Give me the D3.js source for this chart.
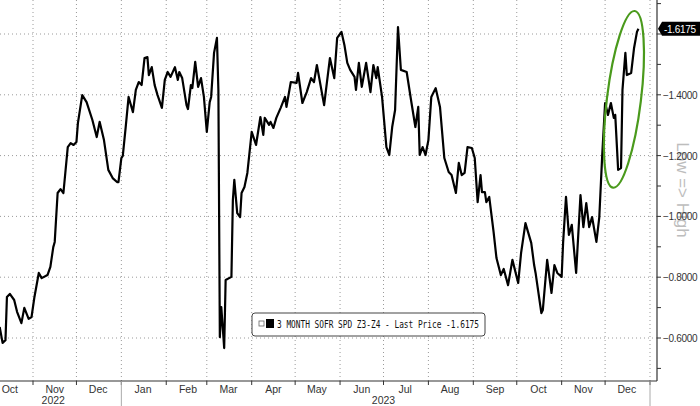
<!DOCTYPE html>
<html><head><meta charset="utf-8">
<script src="https://cdn.jsdelivr.net/npm/d3@7"></script>
<style>body{margin:0;background:#fff}svg{display:block}</style>
</head><body><svg id="c" width="700" height="406"></svg>
<script>
const dates = ["2022-10-09","2022-10-11","2022-10-13","2022-10-14","2022-10-16","2022-10-19","2022-10-21","2022-10-24","2022-10-26","2022-10-29","2022-10-31",
"2022-11-02","2022-11-05","2022-11-07","2022-11-11","2022-11-13","2022-11-15","2022-11-16","2022-11-18","2022-11-20","2022-11-22","2022-11-25","2022-11-27","2022-11-29",
"2022-12-01","2022-12-02","2022-12-05","2022-12-08","2022-12-12","2022-12-15","2022-12-17","2022-12-20","2022-12-23","2022-12-26","2022-12-29","2022-12-30",
"2023-01-01","2023-01-02","2023-01-04","2023-01-06","2023-01-09","2023-01-11","2023-01-13","2023-01-15","2023-01-17","2023-01-19","2023-01-20","2023-01-22","2023-01-24","2023-01-26","2023-01-29","2023-01-31",
"2023-02-02","2023-02-04","2023-02-07","2023-02-09","2023-02-10","2023-02-12","2023-02-15","2023-02-16","2023-02-18","2023-02-19","2023-02-21","2023-02-23","2023-02-25","2023-02-27",
"2023-03-01","2023-03-03","2023-03-04","2023-03-06","2023-03-08","2023-03-09","2023-03-10","2023-03-11","2023-03-13","2023-03-14","2023-03-18","2023-03-19","2023-03-20","2023-03-22","2023-03-24","2023-03-25","2023-03-27","2023-03-29",
"2023-04-01","2023-04-04","2023-04-07","2023-04-09","2023-04-10","2023-04-13","2023-04-14","2023-04-16","2023-04-18","2023-04-21","2023-04-24","2023-04-25","2023-04-28",
"2023-05-02","2023-05-03","2023-05-06","2023-05-09","2023-05-12","2023-05-14","2023-05-16","2023-05-21","2023-05-25","2023-05-28","2023-05-30",
"2023-06-02","2023-06-04","2023-06-06","2023-06-08","2023-06-11","2023-06-12","2023-06-14","2023-06-16","2023-06-19","2023-06-22","2023-06-24","2023-06-26","2023-06-27","2023-06-30",
"2023-07-03","2023-07-05","2023-07-07","2023-07-09","2023-07-11","2023-07-13","2023-07-17","2023-07-20","2023-07-23","2023-07-25","2023-07-26","2023-07-28","2023-07-30",
"2023-08-01","2023-08-03","2023-08-06","2023-08-09","2023-08-12","2023-08-15","2023-08-17","2023-08-20","2023-08-22","2023-08-24","2023-08-26","2023-08-28","2023-08-31",
"2023-09-02","2023-09-04","2023-09-06","2023-09-07","2023-09-09","2023-09-10","2023-09-12","2023-09-15","2023-09-17","2023-09-20","2023-09-22","2023-09-25","2023-09-28",
"2023-10-02","2023-10-04","2023-10-07","2023-10-11","2023-10-13","2023-10-14","2023-10-18","2023-10-19","2023-10-22","2023-10-25","2023-10-27","2023-10-29",
"2023-11-01","2023-11-02","2023-11-04","2023-11-06","2023-11-08","2023-11-11","2023-11-14","2023-11-16","2023-11-18","2023-11-20","2023-11-22","2023-11-25","2023-11-27","2023-11-29",
"2023-12-01","2023-12-03","2023-12-05","2023-12-07","2023-12-08","2023-12-10","2023-12-12","2023-12-13","2023-12-15","2023-12-16","2023-12-19","2023-12-21","2023-12-23","2023-12-24"];
const values = [-0.636,-0.584,-0.593,-0.735,-0.745,-0.725,-0.686,-0.649,-0.699,-0.663,-0.669,
-0.735,-0.814,-0.797,-0.807,-0.834,-0.899,-0.916,-1.077,-1.090,-1.077,-1.228,-1.241,-1.235,
-1.245,-1.307,-1.399,-1.376,-1.317,-1.261,-1.311,-1.251,-1.153,-1.126,-1.113,-1.113,
-1.192,-1.199,-1.294,-1.393,-1.343,-1.416,-1.442,-1.432,-1.521,-1.524,-1.465,-1.491,-1.432,-1.399,-1.357,-1.449,
-1.475,-1.459,-1.491,-1.449,-1.475,-1.455,-1.366,-1.353,-1.432,-1.422,-1.508,-1.426,-1.455,-1.393,
-1.278,-1.376,-1.393,-1.538,-1.587,-1.416,-0.603,-0.702,-0.567,-0.791,-0.801,-1.054,-1.120,-1.011,-0.998,-1.077,-1.097,-1.143,
-1.278,-1.235,-1.327,-1.268,-1.324,-1.301,-1.311,-1.291,-1.324,-1.357,-1.393,-1.360,-1.442,
-1.439,-1.472,-1.373,-1.409,-1.455,-1.442,-1.498,-1.366,-1.521,-1.455,-1.587,
-1.607,-1.564,-1.505,-1.482,-1.459,-1.416,-1.505,-1.426,-1.505,-1.409,-1.498,-1.455,-1.491,-1.393,
-1.228,-1.202,-1.294,-1.350,-1.623,-1.482,-1.475,-1.383,-1.294,-1.360,-1.202,-1.228,-1.202,
-1.251,-1.393,-1.422,-1.360,-1.192,-1.146,-1.136,-1.077,-1.176,-1.136,-1.143,-1.228,-1.225,
-1.192,-1.047,-1.136,-1.080,-1.080,-1.047,-1.064,-0.949,-0.863,-0.807,-0.827,-0.774,-0.857,
-0.781,-0.880,-0.978,-0.913,-0.840,-0.814,-0.682,-0.692,-0.857,-0.748,-0.840,-0.814,
-0.801,-0.913,-1.064,-0.939,-0.972,-0.814,-1.070,-0.965,-1.044,-0.965,-0.998,-0.916,-0.998,-1.200,
-1.373,-1.334,-1.373,-1.324,-1.334,-1.153,-1.159,-1.416,-1.538,-1.465,-1.472,-1.554,-1.607,-1.6175];
const yTicks = [-1.6,-1.4,-1.2,-1.0,-0.8,-0.6];
const yMinor = [-1.7,-1.5,-1.3,-1.1,-0.9,-0.7,-0.5];
const monthLabels = ["Oct","Nov","Dec","Jan","Feb","Mar","Apr","May","Jun","Jul","Aug","Sep","Oct","Nov","Dec"];
const yearLabels = ["2022","2023"];
const lastPrice = "-1.6175";
const legendText = "3 MONTH SOFR SPD Z3-Z4 - Last Price -1.6175";

const parse = d3.timeParse("%Y-%m-%d");
const data = dates.map((d,i)=>({t:parse(d),v:values[i]}));
const svg = d3.select("#c");
const W=657, H=381;
const x = d3.scaleTime().domain([parse("2022-11-01"),parse("2024-01-01")]).range([33,650]);
const y = d3.scaleLinear().domain([-1.6,-0.6]).range([34,338]);
const tf = "Liberation Sans, Arial, sans-serif";

// Low => High (behind tick labels)
svg.append("text").attr("transform","translate(677,190) rotate(90)").attr("text-anchor","middle")
  .attr("font-family",tf).attr("font-size",17).attr("fill","#bdbdbd").text("Low => High");

const monthStarts = d3.timeMonth.range(parse("2022-10-01"),parse("2024-01-02"));
const grid = svg.append("g").attr("stroke","#9a9a9a").attr("stroke-dasharray","1,3").attr("stroke-width",1);
yTicks.forEach(v=>grid.append("line").attr("x1",0).attr("x2",W).attr("y1",y(v)).attr("y2",y(v)));
monthStarts.filter(m=>x(m)>0).forEach(m=>grid.append("line").attr("x1",x(m)).attr("x2",x(m)).attr("y1",0).attr("y2",H));

svg.append("path").datum(data).attr("fill","none").attr("stroke","#000").attr("stroke-width",2.2)
  .attr("stroke-linejoin","round").attr("d",d3.line().x(d=>x(d.t)).y(d=>y(d.v)));

const ecx=x(parse("2023-12-14")), ecy=y(-1.385);
svg.append("ellipse").attr("cx",ecx).attr("cy",ecy).attr("rx",17).attr("ry",89)
  .attr("transform",`rotate(7,${ecx},${ecy})`).attr("fill","none").attr("stroke","#4a9a1c").attr("stroke-width",2.2);

const ax = svg.append("g").attr("stroke","#333");
ax.append("line").attr("x1",0).attr("x2",W).attr("y1",H).attr("y2",H).attr("stroke-width",1.2);
ax.append("line").attr("x1",W).attr("x2",W).attr("y1",0).attr("y2",H).attr("stroke-width",1.2);
yTicks.concat(yMinor).forEach(v=>{ if(y(v)>0&&y(v)<H) ax.append("line").attr("x1",W).attr("x2",W+4).attr("y1",y(v)).attr("y2",y(v));});
monthStarts.filter(m=>x(m)>0).forEach(m=>ax.append("line").attr("x1",x(m)).attr("x2",x(m)).attr("y1",H).attr("y2",H+4));
ax.append("line").attr("x1",x(parse("2023-01-01"))).attr("x2",x(parse("2023-01-01"))).attr("y1",H).attr("y2",406).attr("stroke","#aaa");
ax.append("line").attr("x1",x(parse("2024-01-01"))).attr("x2",x(parse("2024-01-01"))).attr("y1",H).attr("y2",406).attr("stroke","#aaa");

yTicks.forEach(v=>{ if(v!==-1.6) svg.append("text").attr("x",W+6).attr("y",y(v)+4).attr("font-family",tf).attr("font-size",10).attr("letter-spacing",-0.3).attr("fill","#333").text(d3.format(".4f")(v));});
monthStarts.forEach((m,i)=>{
  const mid = d3.timeDay.offset(m,15);
  svg.append("text").attr("x",x(mid)).attr("y",393).attr("text-anchor","middle").attr("font-family",tf).attr("font-size",10.5).attr("fill","#333").text(monthLabels[i]);
});
svg.append("text").attr("x",x(parse("2022-11-15"))).attr("y",404).attr("text-anchor","middle").attr("font-family",tf).attr("font-size",10.5).attr("fill","#333").text(yearLabels[0]);
svg.append("text").attr("x",x(parse("2023-07-01"))).attr("y",404).attr("text-anchor","middle").attr("font-family",tf).attr("font-size",10.5).attr("fill","#333").text(yearLabels[1]);

const ly=y(-1.6175);
svg.append("path").attr("d",`M${W+1},${ly} L${W+5},${ly-7} H700 V${ly+7} H${W+5} Z`).attr("fill","#000");
svg.append("text").attr("x",W+7).attr("y",ly+4).attr("font-family",tf).attr("font-size",10).attr("letter-spacing",-0.3).attr("fill","#fff").text(lastPrice);

const lg = svg.append("g");
lg.append("rect").attr("x",252).attr("y",313).attr("width",233).attr("height",23).attr("rx",3).attr("fill","#fff").attr("stroke","#444").attr("stroke-width",1);
lg.append("rect").attr("x",259).attr("y",321).attr("width",5).attr("height",5).attr("fill","#fff").attr("stroke","#666").attr("stroke-width",0.8);
lg.append("rect").attr("x",266).attr("y",319).attr("width",8).attr("height",9).attr("fill","#000");
lg.append("text").attr("x",277).attr("y",328).attr("font-family","DejaVu Sans Mono, monospace").attr("font-size",10)
  .attr("textLength",202).attr("lengthAdjust","spacingAndGlyphs").attr("fill","#111").text(legendText);
</script></body></html>
